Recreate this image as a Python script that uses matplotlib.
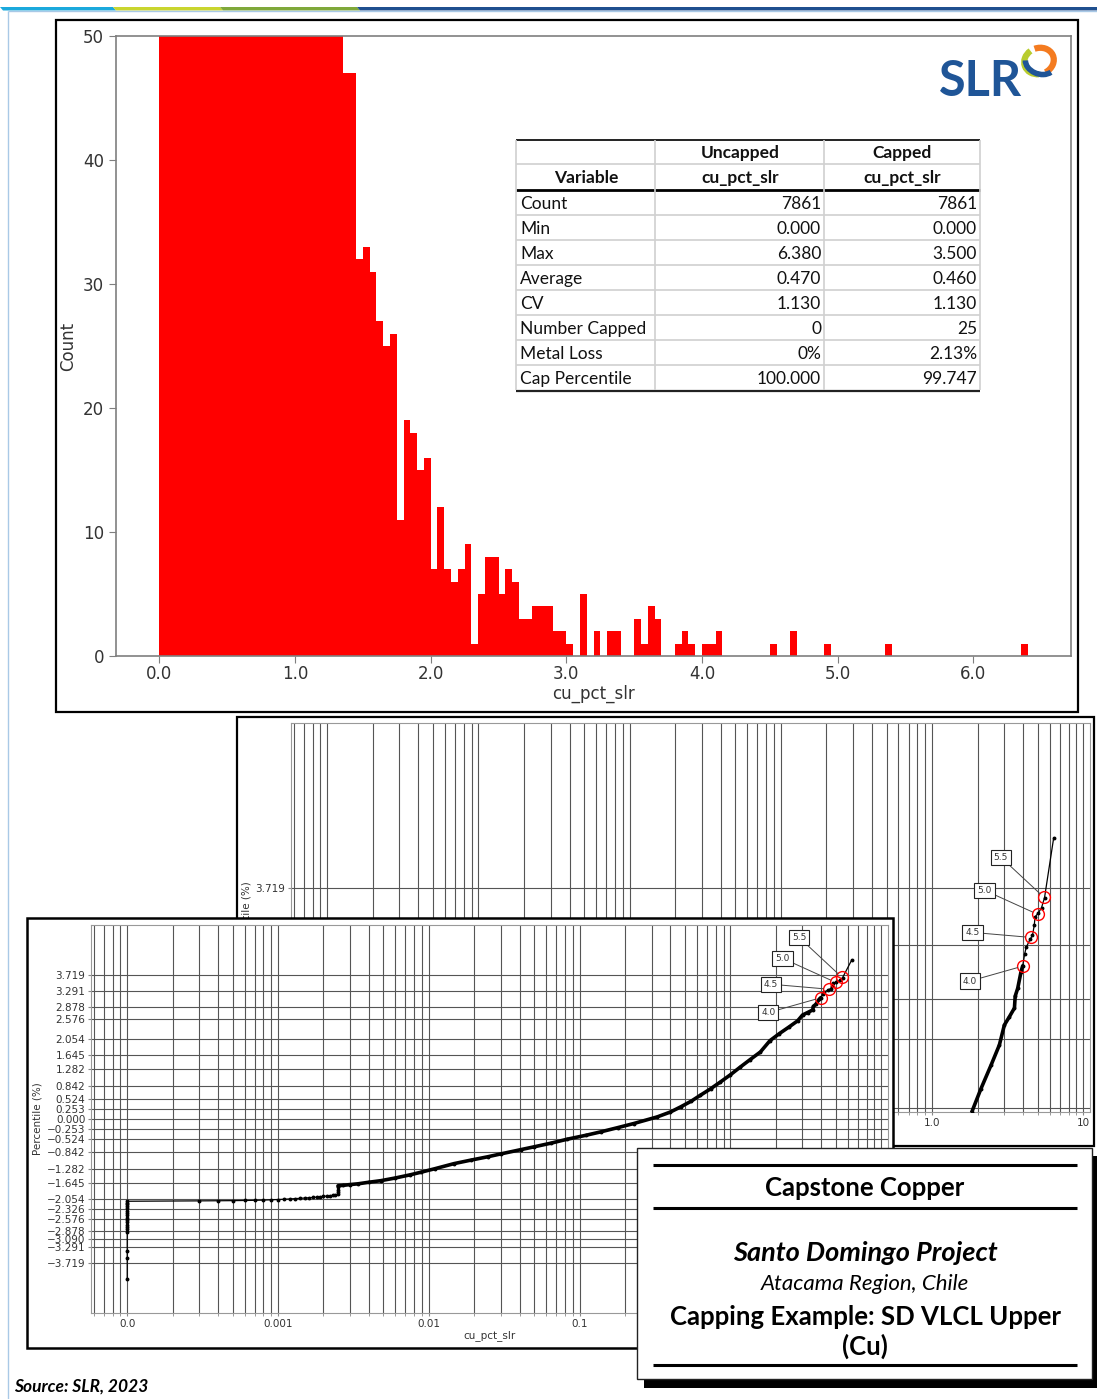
import numpy as np
import matplotlib
matplotlib.use('Agg')
import matplotlib.pyplot as plt
from matplotlib.patches import Rectangle, Polygon, Arc
from matplotlib.lines import Line2D
from matplotlib.transforms import Affine2D
from matplotlib.ticker import LogLocator, NullFormatter

W, H = 1097, 1399

# ------------------------------------------------------------------ data
bin_width = 0.05
hist_counts = [
    1280, 690, 630, 580, 530, 460, 410, 370, 330, 290,   # 0.00-0.45
    255, 225, 195, 165, 140, 120, 105, 96, 90, 85,       # 0.50-0.95
    80, 76, 72, 68, 64, 60, 56,                          # 1.00-1.30
    47, 47, 32, 33, 31, 27, 25, 26, 11, 19,              # 1.35-1.80
    18, 15, 16, 7, 12, 7, 6, 7, 9, 1,                    # 1.85-2.30
    5, 8, 8, 5, 7, 6, 3, 3, 4, 4,                        # 2.35-2.80
    4, 2, 2, 1, 0, 5, 0, 2, 0, 2,                        # 2.85-3.30
    2, 0, 0, 3, 1, 4, 3, 0, 0, 1,                        # 3.35-3.80
    2, 1, 0, 1, 1, 2, 0, 0, 0, 0,                        # 3.85-4.30
    0, 0, 0, 1, 0, 0, 2, 0, 0, 0,                        # 4.35-4.80
    0, 1, 0, 0, 0, 0, 0, 0, 0, 0,                        # 4.85-5.30
    1, 0, 0, 0, 0, 0, 0, 0, 0, 0,                        # 5.35-5.80
    0, 0, 0, 0, 0, 0, 0, 0, 0, 0,                        # 5.85-6.30
    1]                                                   # 6.35
hist_xticks = [0.0, 1.0, 2.0, 3.0, 4.0, 5.0, 6.0]
hist_xticklabels = ['0.0', '1.0', '2.0', '3.0', '4.0', '5.0', '6.0']
hist_yticks = [0, 10, 20, 30, 40, 50]

table_header1 = ['', 'Uncapped', 'Capped']
table_header2 = ['Variable', 'cu_pct_slr', 'cu_pct_slr']
table_rows = ['Count', 'Min', 'Max', 'Average', 'CV', 'Number Capped', 'Metal Loss', 'Cap Percentile']
table_uncapped = ['7861', '0.000', '6.380', '0.470', '1.130', '0', '0%', '100.000']
table_capped = ['7861', '0.000', '3.500', '0.460', '1.130', '25', '2.13%', '99.747']

# probability plot (zero grades are displayed at 0.0001, labelled "0.0")
zero_display_value = 0.0001
zero_grade_z = [-4.12, -3.59, -3.40, -2.92, -2.84, -2.78, -2.72, -2.66, -2.60,
                -2.54, -2.48, -2.42, -2.36, -2.30, -2.25, -2.20, -2.16, -2.12]
low_grade_x = [0.0003, 0.0004, 0.0005, 0.0006, 0.0007, 0.0008, 0.0009, 0.0010,
               0.0011, 0.0012, 0.0013, 0.0014, 0.0015, 0.0016, 0.0017, 0.0018,
               0.0019, 0.0020, 0.0021, 0.0022, 0.0023, 0.0024]
low_grade_z = [-2.110, -2.107, -2.104, -2.100, -2.096, -2.090, -2.082, -2.075,
               -2.068, -2.060, -2.052, -2.045, -2.037, -2.030, -2.022, -2.015,
               -2.005, -1.995, -1.987, -1.978, -1.970, -1.962]
main_x = [0.0025, 0.0025, 0.0025, 0.0025, 0.0025, 0.0027, 0.0030, 0.0034, 0.0040,
          0.0048, 0.0060, 0.0075, 0.0089, 0.0110, 0.0147, 0.019, 0.0245, 0.030,
          0.0407, 0.0498, 0.065, 0.083, 0.11, 0.138, 0.18, 0.229, 0.327, 0.40,
          0.467, 0.55, 0.632, 0.74, 0.859, 1.0, 1.165, 1.35, 1.58, 1.83, 2.11,
          2.46, 2.79, 3.01, 3.25, 3.51, 3.55, 3.69, 3.88, 3.98, 4.10, 4.20, 4.45,
          4.62, 4.75, 4.80, 5.05, 5.30, 5.55, 6.38]
main_z = [-1.94, -1.88, -1.82, -1.76, -1.72, -1.71, -1.69, -1.67, -1.63,
          -1.59, -1.52, -1.44, -1.37, -1.28, -1.15, -1.06, -0.975, -0.90,
          -0.79, -0.718, -0.62, -0.52, -0.42, -0.332, -0.22, -0.116, 0.054, 0.18,
          0.311, 0.46, 0.612, 0.78, 0.955, 1.14, 1.341, 1.53, 1.727, 2.02, 2.20,
          2.378, 2.53, 2.681, 2.744, 2.81, 2.90, 2.96, 3.085, 3.13, 3.22, 3.27, 3.33,
          3.36, 3.44, 3.50, 3.53, 3.57, 3.646, 4.10]
cap_values = [4.0, 4.5, 5.0, 5.5]
cap_z = [3.128, 3.345, 3.52, 3.649]
prob_yticks = [3.719, 3.291, 2.878, 2.576, 2.054, 1.645, 1.282, 0.842, 0.524, 0.253, 0.000,
               -0.253, -0.524, -0.842, -1.282, -1.645, -2.054, -2.326, -2.576, -2.878,
               -3.090, -3.291, -3.719]
prob_xticks = [0.0001, 0.001, 0.01, 0.1, 1.0, 10.0]
prob_xticklabels = ['0.0', '0.001', '0.01', '0.1', '1.0', '10']

# ------------------------------------------------------------------ figure
fig = plt.figure(figsize=(W / 100, H / 100), dpi=100)
fig.patch.set_facecolor('white')
PX = Affine2D().scale(1.0 / W, -1.0 / H).translate(0, 1) + fig.transFigure
CAL = ['Lato', 'DejaVu Sans']


def box(x0, y0, x1, y1):
    return [x0 / W, 1 - y1 / H, (x1 - x0) / W, (y1 - y0) / H]


def rect(x0, y0, x1, y1, z, fc='white', ec='black', lw=1.5):
    fig.add_artist(Rectangle((x0, y0), x1 - x0, y1 - y0, transform=PX,
                             facecolor=fc, edgecolor=ec, linewidth=lw, zorder=z))


def seg(x0, y0, x1, y1, z, color='black', lw=1.0):
    fig.add_artist(Line2D([x0, x1], [y0, y1], transform=PX, color=color,
                          linewidth=lw, zorder=z, solid_capstyle='butt'))


def ftext(x, y, s, z=10, **kw):
    t = fig.text(x / W, 1 - y / H, s, **kw)
    t.set_zorder(z)
    return t


# ---- page decoration
bar_cols = ['#1ba9dc', '#c9d52f', '#7fa83a', '#1f4f8f']
bar_x = [0, 113, 220, 357, 1097]
for i, c in enumerate(bar_cols):
    xa, xb = bar_x[i], bar_x[i + 1]
    fig.add_artist(Polygon([(xa, 7), (xb, 7), (xb + 3, 10.5), (xa + 3, 10.5)],
                           closed=True, transform=PX, facecolor=c,
                           edgecolor='none', zorder=0.5))
seg(8, 11, 1097, 11, 0.5, color='#a9c9e6', lw=1.0)
seg(8, 11, 8, 1399, 0.5, color='#a9c9e6', lw=1.0)

# ---- histogram panel
rect(56, 20, 1078, 712, 0.6, lw=1.6)
axh = fig.add_axes(box(116, 36, 1071, 656), zorder=1)
bin_starts = np.round(np.arange(len(hist_counts)) * bin_width, 2)
axh.bar(bin_starts, hist_counts, width=bin_width, align='edge',
        color='#ff0000', linewidth=0)
axh.set_xticks(hist_xticks)
axh.set_xticklabels(hist_xticklabels)
axh.set_yticks(hist_yticks)
axh.set_ylim(0, 50)
axh.tick_params(labelsize=12, colors='#7f7f7f', labelcolor='#333333', length=5)
axh.tick_params(axis='x', pad=1.5)
for sp in axh.spines.values():
    sp.set_color('#7f7f7f')
    sp.set_linewidth(1.2)
axh.set_ylabel('Count', fontsize=12, color='#333333', labelpad=4)
axh.set_xlabel('cu_pct_slr', fontsize=12, color='#333333', labelpad=1)

# ---- statistics table
tcx = [516, 655, 824, 980]
grey = '#d0d0d0'
TF = 12.5
seg(516, 139.5, 980, 139.5, 2, color='#222222', lw=1.4)
seg(516, 164, 980, 164, 2, color=grey, lw=1.2)
seg(516, 190, 980, 190, 2, color='black', lw=2.0)
row_y = [204, 229, 254, 279, 304, 329, 354, 379]
for k in range(1, 8):
    seg(516, 190 + 25 * k, 980, 190 + 25 * k, 2, color=grey, lw=1.2)
seg(516, 391, 980, 391, 2, color='#222222', lw=1.6)
for xx in tcx:
    seg(xx, 140, xx, 390, 2, color=grey, lw=1.2)
ftext(740, 153, table_header1[1], ha='center', va='center', fontsize=TF,
      fontweight='bold', family=CAL, color='#111111')
ftext(902, 153, table_header1[2], ha='center', va='center', fontsize=TF,
      fontweight='bold', family=CAL, color='#111111')
ftext(586, 178, table_header2[0], ha='center', va='center', fontsize=TF,
      fontweight='bold', family=CAL, color='#111111')
ftext(740, 178, table_header2[1], ha='center', va='center', fontsize=TF,
      fontweight='bold', family=CAL, color='#111111')
ftext(902, 178, table_header2[2], ha='center', va='center', fontsize=TF,
      fontweight='bold', family=CAL, color='#111111')
for y, a, b, c in zip(row_y, table_rows, table_uncapped, table_capped):
    ftext(520, y, a, ha='left', va='center', fontsize=TF, family=CAL, color='#111111')
    ftext(821, y, b, ha='right', va='center', fontsize=TF, family=CAL, color='#111111')
    ftext(977, y, c, ha='right', va='center', fontsize=TF, family=CAL, color='#111111')

# ---- SLR logo
ftext(980, 82, 'SLR', ha='center', va='center', fontsize=35, fontweight='bold',
      family=CAL, color='#1f5597')
fig.add_artist(Arc((1039, 61), 30, 26, angle=-20, theta1=110, theta2=250,
                   transform=PX, color='#b8cc2e', lw=4.5, zorder=3))
fig.add_artist(Arc((1039, 61), 30, 26, angle=-20, theta1=-90, theta2=80,
                   transform=PX, color='#f47b20', lw=4.5, zorder=3))
fig.add_artist(Arc((1040, 63), 30, 22, angle=20, theta1=20, theta2=170,
                   transform=PX, color='#1f5597', lw=4.0, zorder=3))

# ---- probability plots
label_offsets = [(-53, -15), (-58, 5), (-53, 24), (-43, 40)]


def prob_plot(ax_box, ylim, zorder, xlabels):
    ax = fig.add_axes(box(*ax_box), zorder=zorder)
    ax.set_xscale('log')
    xs = [zero_display_value] * len(zero_grade_z) + low_grade_x + main_x
    zs = zero_grade_z + low_grade_z + main_z
    ax.plot(xs, zs, '-', color='black', lw=0.9, marker='o', ms=1.8, zorder=3)
    ax.plot(main_x[4:-10], main_z[4:-10], '-', color='black', lw=2.6,
            solid_capstyle='round', zorder=3)
    ax.plot(cap_values, cap_z, 'o', mfc='none', mec='red', ms=8.5, mew=1.0, zorder=4)
    for v, z, off in zip(cap_values, cap_z, label_offsets):
        ax.annotate(f'{v:.1f}', xy=(v, z), xytext=off, textcoords='offset pixels',
                    fontsize=6.5, ha='center', va='center', color='#333333',
                    bbox=dict(boxstyle='square,pad=0.35', fc='white', ec='#222222', lw=0.8),
                    arrowprops=dict(arrowstyle='-', color='#444444', lw=0.7,
                                    shrinkA=0, shrinkB=4), zorder=5)
    ax.set_yticks(prob_yticks)
    ax.set_yticklabels([f'{t:.3f}'.replace('-', '\u2212') for t in prob_yticks])
    ax.set_xticks(prob_xticks)
    ax.set_xticklabels(xlabels)
    ax.xaxis.set_minor_locator(LogLocator(base=10, subs=np.arange(2, 10), numticks=100))
    ax.xaxis.set_minor_formatter(NullFormatter())
    ax.set_ylim(*ylim)
    ax.grid(True, which='both', axis='x', color='#555555', lw=0.8)
    ax.grid(True, which='major', axis='y', color='#555555', lw=0.8)
    ax.set_axisbelow(True)
    ax.tick_params(which='both', length=2, pad=2, labelsize=7.5,
                   colors='#888888', labelcolor='#333333')
    for sp in ax.spines.values():
        sp.set_color('#999999')
        sp.set_linewidth(0.8)
    ax.set_ylabel('Percentile (%)', fontsize=7.5, color='#333333', labelpad=3)
    ax.set_xlabel('cu_pct_slr', fontsize=7.5, color='#333333', labelpad=1)
    return ax


# back (zoomed) panel: only its upper-right part is visible
rect(237, 717, 1094, 1146, 3, lw=1.6)
prob_plot((291, 723, 1090, 1112), (2.022, 4.97), 4,
          ['', '', '', '', '1.0', '10'])

# front panel (its 1.0 / 10 labels sit under the title block)
rect(27, 918, 893, 1348, 5, lw=1.8)
prob_plot((91, 925, 888, 1313), (-5.0, 5.0), 6,
          ['0.0', '0.001', '0.01', '0.1', '', ''])

# ---- title block
rect(644, 1156, 1097, 1388, 7, fc='black', ec='black', lw=0)
rect(637, 1148, 1092, 1379, 7.1, fc='white', ec='#222222', lw=1.0)
for yy in (1165, 1208, 1365):
    seg(653, yy, 1077, yy, 7.2, color='black', lw=2.2)
ftext(865, 1188, 'Capstone Copper', z=8, ha='center', va='center', fontsize=18.5,
      fontweight='bold', family=CAL, color='black')
ftext(865, 1253, 'Santo Domingo Project', z=8, ha='center', va='center', fontsize=19.5,
      fontweight='bold', style='italic', family=CAL, color='black')
ftext(865, 1284, 'Atacama Region, Chile', z=8, ha='center', va='center', fontsize=16,
      style='italic', family=CAL, color='black')
ftext(865, 1317, 'Capping Example: SD VLCL Upper', z=8, ha='center', va='center',
      fontsize=18.5, fontweight='bold', family=CAL, color='black')
ftext(865, 1346, '(Cu)', z=8, ha='center', va='center', fontsize=18.5,
      fontweight='bold', family=CAL, color='black')

# ---- source
ftext(14, 1387, 'Source: SLR, 2023', z=8, ha='left', va='center', fontsize=12.5,
      fontweight='bold', style='italic', family=CAL, color='black')

fig.savefig('out.png', dpi=100, facecolor='white')
